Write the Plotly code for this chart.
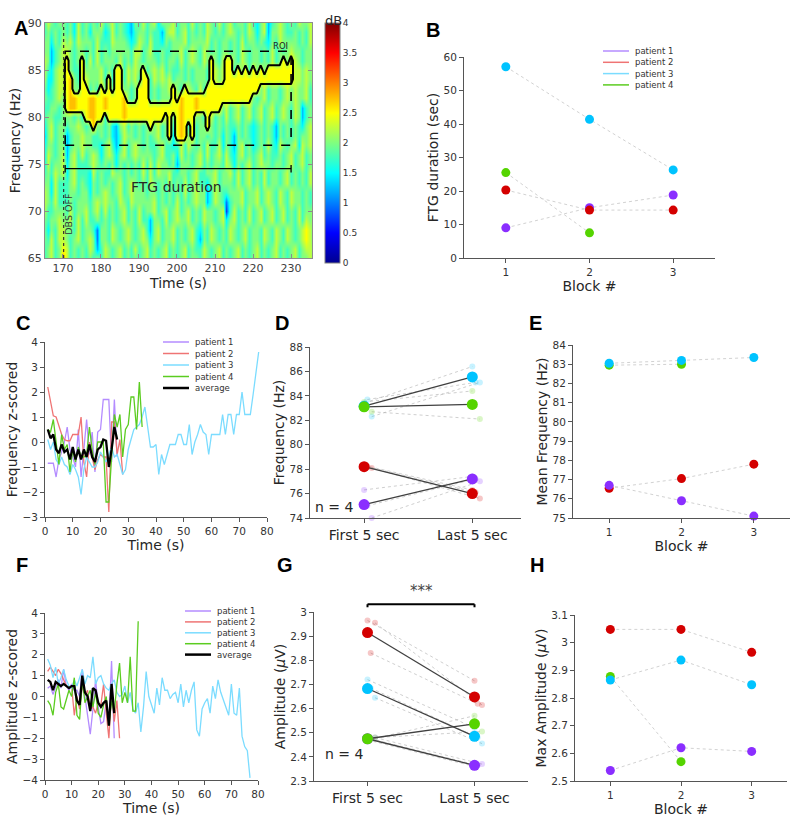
"""Eight-panel figure: spectrogram with FTG contour, per-patient block summaries and z-scored traces."""

import plotly.graph_objects as go

W, H = 800, 818
FONT = "DejaVu Sans"
INK = "#262626"
AXIS_GREY = "#555555"

PATIENTS = ["patient 1", "patient 2", "patient 3", "patient 4"]
DOT_COLORS = ["#8a2eff", "#d40000", "#00c3ff", "#55d400"]
LINE_COLORS = ["#b48cff", "#ef7474", "#7bdcff", "#5bcc20"]

# ---------------- panel A: spectrogram (one string per second, 65 Hz -> 90 Hz)
SPEC_TIMES = list(range(165, 237))
SPEC_FREQS = list(range(65, 91))
SPEC_COLUMNS = [
    "5566677765444" "3455667776655",  # 165
    "6654556666776" "6665544566667",
    "7776655445566" "7766554433456",
    "5555667777655" "5556666655665",
    "6677765556666" "6655777766556",
    "9877665557776" "6666677777766",  # 170
    "7766655554433" "3566667777655",
    "5556776666665" "5665556666766",
    "6665555677776" "6655666555544",
    "5577766555556" "6766665566777",
    "6655566665577" "7655557766655",  # 175
    "5566776655556" "6556667655666",
    "6776555444666" "6665556676645",
    "5665566667775" "5577766655566",
    "6322677555665" "5666556677765",
    "5566556666544" "6655667755567",  # 180
    "7766677755666" "5556665566545",
    "6655556665577" "6666777665556",
    "5577666557665" "4455665566777",
    "6666555666443" "3366677556655",
    "7755667776665" "5666555676666",  # 185
    "5566776555577" "7766665556655",
    "6677555666655" "6555667766544",
    "5566667775566" "6677556655433",
    "6755556666677" "5566667777556",
    "5566776655566" "6655555667765",  # 190
    "6677556667765" "5566776655667",
    "7765566555566" "6677665566555",
    "5543366677765" "5566555667766",
    "6666677665555" "6655667765557",
    "5577655557766" "7766556655554",  # 195
    "6655566666677" "5555667766436",
    "7766775556655" "6677666555666",
    "5566556677555" "5556677665576",
    "6677665555664" "4566555566677",
    "5555777665345" "5667766556655",  # 200
    "6666655556677" "7755556677666",
    "7755666776655" "6666665555776",
    "5566775555667" "6555776666555",
    "6677556666556" "5577665577667",
    "6555667777665" "5566556666655",  # 205
    "5534556655776" "6666776655666",
    "7766776655555" "6655556677655",
    "6655663346677" "5566665566777",
    "5577665566555" "6677556655566",
    "6666557777665" "5555667766655",  # 210
    "7755666655677" "6666556655567",
    "5566775566554" "4556677776655",
    "6655412566776" "6677555566666",
    "5577655667655" "5555667755577",
    "6666776655443" "3566665566665",  # 215
    "7755556677666" "6677776655556",
    "5566667755577" "5555666677766",
    "6677555566655" "6666557766555",
    "5555776677766" "5577665555677",
    "6666556655554" "4455667766665",  # 220
    "7766667766665" "5566556666544",
    "5555775555776" "6677667755666",
    "6677556677655" "5555776666577",
    "5566667755667" "6666556655433",
    "6655776666555" "5577666677665",  # 225
    "7777555566654" "3355667755566",
    "5566667755667" "6666557766777",
    "6655776666556" "5577665555666",
    "5577555577665" "6666776666655",
    "6666667755776" "5555667777656",  # 230
    "7755556666557" "6677777776665",
    "5566776655664" "5566667766557",
    "6677555566777" "6433666655666",
    "6788766655556" "6655777766556",
    "7777665577667" "7766556666777",  # 235
    "6655776666556" "6655667755667",
]

# FTG band (rows lo..hi, Hz) for each second inside the ROI
BAND_TIMES = list(range(171, 231))
BAND_LO = [81, 81, 81, 81, 81, 80, 80, 79, 80, 80,
           81, 80, 80, 80, 80, 80, 80, 80, 80, 80,
           80, 80, 79, 80, 80, 80, 81, 78, 81, 78,
           78, 78, 80, 78, 81, 81, 81, 79, 81, 81,
           81, 82, 82, 82, 82, 82, 82, 82, 82, 83,
           83, 84, 84, 84, 84, 84, 84, 84, 84, 84]
BAND_HI = [86, 84, 82, 82, 86, 83, 82, 82, 82, 83,
           82, 84, 82, 85, 85, 82, 81, 81, 81, 83,
           85, 84, 81, 81, 81, 81, 81, 81, 83, 81,
           82, 83, 82, 82, 82, 82, 82, 83, 86, 83,
           83, 83, 86, 86, 84, 85, 84, 85, 84, 85,
           84, 85, 84, 85, 85, 85, 85, 86, 85, 86]
BAND_LEVEL = ("8998889988" "9888898888" "8888888888"
              "9888988888" "8888888888" "8888888888")

ROI_T = [170.6, 230]
ROI_F = [77, 87]
DBS_OFF_T = 170.2
FTG_F = 74.5
CBAR_TICKS = [0, 0.5, 1, 1.5, 2, 2.5, 3, 3.5, 4]

# ---------------- panels B, E, H: per block values
BLOCKS = [1, 2, 3]
B_DURATION = [[9.0, 15.0, 18.8], [20.3, 14.3, 14.3], [57.1, 41.4, 26.3], [25.5, 7.5, None]]
E_MEAN_FREQ = [[76.7, 75.9, 75.1], [76.55, 77.05, 77.8], [83.05, 83.2, 83.35], [82.95, 83.0, None]]
H_MAX_AMP = [[2.538, 2.62, 2.607], [3.048, 3.048, 2.965], [2.865, 2.937, 2.848], [2.878, 2.57, None]]

# ---------------- panels C, F: z-scored traces (1 s steps)
C_P1 = [-0.85, -0.85, -0.85, -1.4, -0.7, -0.4, 0.0, 0.6, -0.3, -0.6,
        -1.0, 0.5, -1.4, -0.3, 0.9, -0.5, 0.4, -1.2, 0.4, 0.5,
        1.7, 1.7, 1.7, -0.8, 1.7, -0.6]
C_P2 = [2.2, 1.6, 1.05, 1.0, 0.6, 0.3, 0.1, 0.05, 0.05, 0.3,
        0.3, 0.3, 1.0, -0.8, -1.4, 0.0, -0.6, -1.1, -0.7, -0.5,
        -0.6, -0.6, -2.8, 0.8, 0.8, -0.5, 0.1, -1.3]
C_P3 = [0.1, -0.3, 0.0, -0.7, -0.9, -0.6, -0.9, -1.0, -1.3, -0.9,
        -1.1, -1.4, -2.1, -1.1, -0.6, -0.8, -1.0, -1.0, -0.8, -0.4,
        -0.6, -0.8, -0.5, -0.2, -0.6, -0.5, -0.9, -1.3, -1.1, -0.3,
        0.1, 0.5, 0.6, 0.7, 1.0, 1.4, 0.6, -0.2, -0.2, -0.1,
        -1.3, -0.5, -0.9, -0.5, -0.1, -0.1, -0.1, 0.3, 0.3, -0.1,
        -0.1, 0.7, -0.5, 0.0, 0.3, 0.7, 0.4, 0.3, -0.5, 0.3,
        0.3, 0.3, 0.3, 1.1, 0.3, 1.1, 1.1, 0.3, 1.1, 1.1,
        2.0, 1.1, 1.1, 1.1, 1.9, 2.8, 3.6]
C_P4 = [0.5, 0.4, 0.9, 0.0, -0.9, 0.3, -0.3, -0.1, -1.2, -0.3,
        -0.8, -0.2, -0.6, -0.6, -0.5, 0.6, -0.3, -0.9, 0.0, 0.0,
        0.0, -2.4, -2.4, -0.6, 1.1, 0.6, 1.1, -0.6, 0.5, 0.7,
        1.8, 1.8, 0.5, 2.4, 0.6]
C_AVG = [0.5, 0.15, 0.3, -0.3, -0.45, -0.1, -0.4, -0.3, -0.7, -0.2,
         -0.7, -0.3, -0.7, -0.3, -0.6, -0.1, -0.6, -0.8, -0.3, -0.2,
         0.1, 0.05, -1.0, -0.3, 0.6, 0.1]

F_P1 = [0.4, 0.5, 0.1, 0.5, 0.8, 0.4, 1.3, 0.5, 0.3, 0.6,
        0.3, 0.3, 0.0, 1.3, 0.0, -0.9, -1.8, -0.6, 0.8, -0.5,
        -1.3, -1.2, -0.2, -1.2, 1.7, -2.0]
F_P2 = [1.2, 1.4, 1.2, 1.0, 1.3, 1.1, 0.8, 0.5, 0.4, 0.5,
        -0.9, 0.0, -0.6, 0.5, 0.1, 0.3, -0.6, -0.5, -0.8, -0.3,
        -0.4, 0.6, -0.8, -2.0, 0.3, -1.2, -0.2, -2.0]
F_P3 = [1.8, 1.5, 0.9, 1.4, 0.6, 0.9, 1.3, 0.8, 0.5, 0.4,
        0.8, 0.5, 0.9, 1.3, 0.6, 1.0, 0.9, 1.9, 0.6, 0.9,
        1.0, 0.6, 0.4, 0.3, 0.6, 0.8, 0.2, 0.0, 0.1, 0.5,
        -0.3, 0.2, -0.6, -0.8, -0.3, -1.7, -0.5, 1.2, 0.0, -0.4,
        -0.8, 0.4, -0.4, 0.9, 0.3, 0.3, -0.1, 0.1, 0.2, -0.3,
        0.6, -0.5, 0.3, -0.3, 0.3, 0.7, -1.6, -1.9, -0.6, -0.3,
        -0.1, -0.8, 0.5, -0.1, 0.8, 0.2, -0.2, -0.6, -0.9, 0.6,
        -0.8, -0.9, 0.4, -1.9, -2.4, -2.6, -3.9]
F_P4 = [-0.2, -0.4, -0.9, 0.2, 0.6, -0.5, -0.6, -0.2, 0.3, 0.0,
        0.9, -0.9, -1.1, 0.8, -0.3, 0.0, 0.3, -0.5, 0.2, -0.8,
        -1.0, -0.4, 0.0, -1.4, -0.2, -0.8, 0.6, 1.6, -0.3, 0.2,
        -0.3, 1.9, -0.7, -0.7, 3.6]
F_AVG = [0.8, 0.7, 0.3, 0.7, 0.6, 0.5, 0.6, 0.5, 0.4, 0.5,
         0.5, -0.2, -0.4, 1.0, 0.2, 0.0, -0.7, 0.4, 0.3, -0.3,
         -0.5, -0.3, -0.2, -1.4, 0.6, -0.8]

# ---------------- panels D, G: first vs last 5 s
PAIR_LABELS = ["First 5 sec", "Last 5 sec"]
D_FIRST_MEAN = [75.1, 78.2, 83.15, 83.1]
D_LAST_MEAN = [77.2, 76.0, 85.55, 83.3]
D_FIRST_BLOCKS = [[76.3, 74.0, 75.0], [78.3, 78.1, 78.2], [83.4, 82.3, 83.7], [83.5, 82.7]]
D_LAST_BLOCKS = [[77.4, 77.0, 77.2], [76.3, 75.6, 76.1], [86.4, 85.1, 85.1], [84.4, 82.1]]
G_FIRST_MEAN = [2.475, 2.915, 2.683, 2.475]
G_LAST_MEAN = [2.365, 2.648, 2.485, 2.537]
G_FIRST_BLOCKS = [[2.47, 2.48, 2.475], [2.965, 2.955, 2.83], [2.72, 2.645, 2.685], [2.47, 2.48]]
G_LAST_BLOCKS = [[2.36, 2.37, 2.365], [2.715, 2.615, 2.62], [2.52, 2.455, 2.48], [2.57, 2.505]]
JITTER = [0.0, 0.07, 0.03]

JET = [[0.0, "rgb(0,0,143)"], [0.125, "rgb(0,0,255)"], [0.375, "rgb(0,255,255)"],
       [0.625, "rgb(255,255,0)"], [0.875, "rgb(255,0,0)"], [1.0, "rgb(128,0,0)"]]


def level(ch):
    return 0.5 + 0.25 * int(ch)


def px_x(px):
    return px / W


def px_y(py):
    return 1 - py / H


assert all(len(c) == len(SPEC_FREQS) for c in SPEC_COLUMNS)
z = [[level(SPEC_COLUMNS[j][i]) for j in range(len(SPEC_TIMES))] for i in range(len(SPEC_FREQS))]
mask = [[0] * len(SPEC_TIMES) for _ in SPEC_FREQS]
for k, t in enumerate(BAND_TIMES):
    j = SPEC_TIMES.index(t)
    for f in range(BAND_LO[k], BAND_HI[k] + 1):
        i = SPEC_FREQS.index(f)
        z[i][j] = level(BAND_LEVEL[k])
        mask[i][j] = 1

fig = go.Figure()

# ---- A
fig.add_trace(go.Heatmap(
    x=SPEC_TIMES, y=SPEC_FREQS, z=z, zmin=0, zmax=4, colorscale=JET, zsmooth="best",
    hoverinfo="skip", xaxis="x", yaxis="y",
    colorbar=dict(x=px_x(325), xanchor="left", xpad=0, y=px_y(23), yanchor="top", ypad=0,
                  len=240, lenmode="pixels", thickness=15, outlinecolor="#808080", outlinewidth=1,
                  tickvals=CBAR_TICKS, ticks="", tickfont=dict(size=9, color="#333")),
))
fig.add_trace(go.Contour(
    x=SPEC_TIMES, y=SPEC_FREQS, z=mask, showscale=False, hoverinfo="skip",
    contours=dict(start=0.5, end=0.5, size=1, coloring="none"),
    line=dict(color="black", width=2, smoothing=0), xaxis="x", yaxis="y",
))


# ---- B, E, H
def block_panel(n, values, order):
    for i in order:
        fig.add_trace(go.Scatter(
            x=BLOCKS, y=values[i], mode="lines+markers", cliponaxis=False,
            line=dict(color="#d2d2d2", width=1, dash="dot"),
            marker=dict(color=DOT_COLORS[i], size=9),
            xaxis=f"x{n}", yaxis=f"y{n}", showlegend=False, hoverinfo="skip",
        ))


block_panel(2, B_DURATION, [0, 1, 3, 2])
block_panel(5, E_MEAN_FREQ, [1, 0, 3, 2])
block_panel(8, H_MAX_AMP, [0, 1, 3, 2])


# ---- C, F
def trace_panel(n, series):
    for i, s in enumerate(series[:4]):
        fig.add_trace(go.Scatter(
            x=list(range(1, len(s) + 1)), y=s, mode="lines",
            line=dict(color=LINE_COLORS[i], width=1.3),
            xaxis=f"x{n}", yaxis=f"y{n}", showlegend=False, hoverinfo="skip",
        ))
    avg = series[4]
    fig.add_trace(go.Scatter(
        x=list(range(1, len(avg) + 1)), y=avg, mode="lines",
        line=dict(color="black", width=2.3),
        xaxis=f"x{n}", yaxis=f"y{n}", showlegend=False, hoverinfo="skip",
    ))


trace_panel(3, [C_P1, C_P2, C_P3, C_P4, C_AVG])
trace_panel(6, [F_P1, F_P2, F_P3, F_P4, F_AVG])


# ---- D, G
def paired_panel(n, first_blocks, last_blocks, first_mean, last_mean):
    for i in range(4):
        for k, (a, b) in enumerate(zip(first_blocks[i], last_blocks[i])):
            fig.add_trace(go.Scatter(
                x=[1 + JITTER[k], 2 + JITTER[k]], y=[a, b], mode="lines+markers", cliponaxis=False,
                line=dict(color="rgba(175,175,175,0.6)", width=1, dash="dot"),
                marker=dict(color=DOT_COLORS[i], size=6, opacity=0.22),
                xaxis=f"x{n}", yaxis=f"y{n}", showlegend=False, hoverinfo="skip",
            ))
    for i in range(4):
        fig.add_trace(go.Scatter(
            x=[1, 2], y=[first_mean[i], last_mean[i]], mode="lines",
            line=dict(color="#404040", width=1.3),
            xaxis=f"x{n}", yaxis=f"y{n}", showlegend=False, hoverinfo="skip",
        ))
    for i in range(4):
        fig.add_trace(go.Scatter(
            x=[1, 2], y=[first_mean[i], last_mean[i]], mode="markers", cliponaxis=False,
            marker=dict(color=DOT_COLORS[i], size=11),
            xaxis=f"x{n}", yaxis=f"y{n}", showlegend=False, hoverinfo="skip",
        ))


paired_panel(4, D_FIRST_BLOCKS, D_LAST_BLOCKS, D_FIRST_MEAN, D_LAST_MEAN)
paired_panel(7, G_FIRST_BLOCKS, G_LAST_BLOCKS, G_FIRST_MEAN, G_LAST_MEAN)

# ---------------- axes
TITLE_FONT = dict(family=FONT, size=14, color=INK)


def axes(n, xpx, ypx, xr, yr, xtitle, ytitle, xticks, yticks, xtext=None, ytext=None, xfont=10.5):
    base = dict(showline=True, linecolor=AXIS_GREY, linewidth=1, ticks="outside", ticklen=4,
                tickcolor=AXIS_GREY, showgrid=False, zeroline=False, automargin=False)
    sx = "" if n == 1 else str(n)
    xa = dict(base, domain=[px_x(xpx[0]), px_x(xpx[1])], range=xr, anchor=f"y{sx}",
              tickmode="array", tickvals=xticks,
              title=dict(text=xtitle, standoff=3, font=TITLE_FONT),
              tickfont=dict(size=xfont, color="#333" if xfont < 12 else INK))
    ya = dict(base, domain=[px_y(ypx[1]), px_y(ypx[0])], range=yr, anchor=f"x{sx}",
              tickmode="array", tickvals=yticks,
              title=dict(text=ytitle, standoff=1, font=TITLE_FONT),
              tickfont=dict(size=10.5, color="#333"))
    if xtext:
        xa["ticktext"] = xtext
    if ytext:
        ya["ticktext"] = ytext
    return {f"xaxis{sx}": xa, f"yaxis{sx}": ya}


layout_axes = {}
layout_axes.update(axes(1, (45, 312), (23, 258), [165.3, 235.5], [65, 90], "Time (s)", "Frequency (Hz)",
                        [170, 180, 190, 200, 210, 220, 230], [65, 70, 75, 80, 85, 90]))
for key in ("xaxis", "yaxis"):
    layout_axes[key].update(mirror="ticks", ticks="inside", linecolor="#8c8c8c", tickcolor="#8c8c8c",
                            tickfont=dict(size=11, color="#404040"))
layout_axes["yaxis"]["title"]["standoff"] = 3
layout_axes.update(axes(2, (464, 715), (57, 258), [0.5, 3.5], [0, 60], "Block #", "FTG duration (sec)",
                        BLOCKS, [0, 10, 20, 30, 40, 50, 60]))
layout_axes.update(axes(3, (45, 267), (342, 517), [0, 80], [-3, 4], "Time (s)", "Frequency z-scored",
                        [0, 10, 20, 30, 40, 50, 60, 70, 80], [-3, -2, -1, 0, 1, 2, 3, 4]))
layout_axes.update(axes(4, (310, 521), (347, 518), [0.5, 2.45], [74, 88], None, "Frequency (Hz)",
                        [1, 2], [74, 76, 78, 80, 82, 84, 86, 88], xtext=PAIR_LABELS, xfont=14))
layout_axes.update(axes(5, (573, 790), (345, 518), [0.5, 3.5], [75, 84], "Block #", "Mean Frequency (Hz)",
                        BLOCKS, [75, 76, 77, 78, 79, 80, 81, 82, 83, 84]))
layout_axes.update(axes(6, (45, 258), (613, 780), [0, 80], [-4, 4], "Time (s)", "Amplitude z-scored",
                        [0, 10, 20, 30, 40, 50, 60, 70, 80], [-4, -3, -2, -1, 0, 1, 2, 3, 4]))
layout_axes.update(axes(7, (314, 528), (612, 781), [0.5, 2.5], [2.3, 3.0], None, "Amplitude (<i>μ</i>V)",
                        [1, 2], [2.3, 2.4, 2.5, 2.6, 2.7, 2.8, 2.9, 3.0], xtext=PAIR_LABELS,
                        ytext=["2.3", "2.4", "2.5", "2.6", "2.7", "2.8", "2.9", "3"], xfont=14))
layout_axes.update(axes(8, (575, 787), (615, 781), [0.5, 3.5], [2.5, 3.1], "Block #", "Max Amplitude (<i>μ</i>V)",
                        BLOCKS, [2.5, 2.6, 2.7, 2.8, 2.9, 3.0, 3.1],
                        ytext=["2.5", "2.6", "2.7", "2.8", "2.9", "3", "3.1"]))

fig.update_layout(
    template="none",
    width=W, height=H, margin=dict(l=0, r=0, t=0, b=0, autoexpand=False),
    paper_bgcolor="white", plot_bgcolor="white", showlegend=False,
    font=dict(family=FONT, color=INK),
    **layout_axes,
)

# ---------------- panel A decorations
fig.add_shape(type="rect", xref="x", yref="y", x0=ROI_T[0], x1=ROI_T[1], y0=ROI_F[0], y1=ROI_F[1],
              line=dict(color="black", width=1.6, dash="dash"))
fig.add_shape(type="line", xref="x", yref="y", x0=DBS_OFF_T, x1=DBS_OFF_T, y0=65, y1=90,
              line=dict(color="#333", width=1.2, dash="dot"))
fig.add_shape(type="line", xref="x", yref="y", x0=ROI_T[0], x1=ROI_T[1], y0=FTG_F, y1=FTG_F,
              line=dict(color="black", width=1.3))
for t_end in ROI_T:
    fig.add_shape(type="line", xref="x", yref="y", x0=t_end, x1=t_end, y0=FTG_F - 0.4, y1=FTG_F + 0.4,
                  line=dict(color="black", width=1.3))
fig.add_annotation(xref="x", yref="y", x=200, y=72.6, text="FTG duration", showarrow=False,
                   font=dict(size=14, color=INK))
fig.add_annotation(xref="x", yref="y", x=171.6, y=69.7, text="DBS OFF", textangle=-90, showarrow=False,
                   font=dict(size=9.5, color="#333"))
fig.add_annotation(xref="x", yref="y", x=227.3, y=87.6, text="ROI", showarrow=False,
                   font=dict(size=8.5, color="#222"))
fig.add_annotation(xref="paper", yref="paper", x=px_x(333), y=px_y(11), text="dB", showarrow=False,
                   font=dict(size=13, color=INK))

# ---------------- panel G significance bracket
fig.add_shape(type="line", xref="x7", yref="y7 domain", x0=1, x1=2, y0=1.046, y1=1.046,
              line=dict(color="black", width=2))
for xe in (1, 2):
    fig.add_shape(type="line", xref="x7", yref="y7 domain", x0=xe, x1=xe, y0=1.028, y1=1.046,
                  line=dict(color="black", width=2))
fig.add_annotation(xref="x7", yref="paper", x=1.5, y=px_y(602), text="***", showarrow=False,
                   font=dict(size=15, color="#444"))

for n, ypx in ((4, 507), (7, 764)):
    fig.add_annotation(xref="paper", yref="paper", x=px_x(313 if n == 4 else 323), y=px_y(ypx),
                       xanchor="left", text="n = 4", showarrow=False, font=dict(size=14, color=INK))


# ---------------- hand-drawn legends (compact, like the original)
def add_legend(x_px, y_px, row_px, labels, colors, widths):
    for k, (lab, col, w) in enumerate(zip(labels, colors, widths)):
        yy = px_y(y_px + k * row_px)
        fig.add_shape(type="line", xref="paper", yref="paper", x0=px_x(x_px), x1=px_x(x_px + 26),
                      y0=yy, y1=yy, line=dict(color=col, width=w))
        fig.add_annotation(xref="paper", yref="paper", x=px_x(x_px + 30), y=yy, text=lab,
                           showarrow=False, xanchor="left", yanchor="middle",
                           font=dict(size=8.5, color="#333"))


add_legend(603, 51, 11.3, PATIENTS, LINE_COLORS, [1.5] * 4)
add_legend(163, 342, 11.5, PATIENTS + ["average"], LINE_COLORS + ["black"], [1.5] * 4 + [2.5])
add_legend(185, 611, 10.9, PATIENTS + ["average"], LINE_COLORS + ["black"], [1.5] * 4 + [2.5])

# ---------------- panel letters
for letter, (lx, ly) in zip("ABCDEFGH", [(13, 16), (433, 18), (15, 323), (282, 323),
                                          (543, 323), (15, 577), (285, 577), (545, 577)]):
    fig.add_annotation(xref="paper", yref="paper", x=px_x(lx), y=px_y(ly), text=f"<b>{letter}</b>",
                       showarrow=False, borderpad=0,
                       font=dict(family="Liberation Sans", size=20, color="black"))

# the page's default body margin would push the 800x818 figure off the viewport
fig.write_html("out.html", config={"displayModeBar": False},
               post_script="document.body.style.margin='0';")
